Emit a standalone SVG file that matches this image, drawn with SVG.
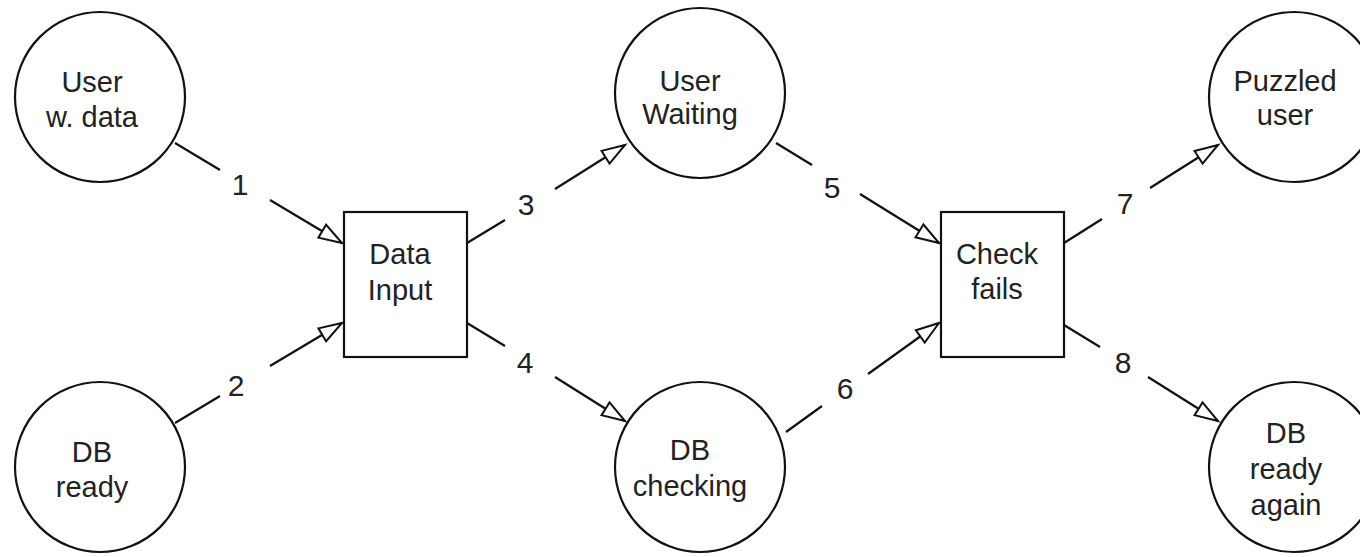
<svg xmlns="http://www.w3.org/2000/svg" width="1360" height="557" viewBox="0 0 1360 557">
  <style>
    .state { fill: #ffffff; stroke: #111111; stroke-width: 2.2; }
    .label { font-family: "Liberation Sans", Arial, sans-serif; font-size: 29px; fill: #222222; text-anchor: middle; }
    .num { font-family: "Liberation Sans", Arial, sans-serif; font-size: 30px; fill: #222222; text-anchor: middle; }
    .edge { fill: none; stroke: #111111; stroke-width: 2.2; marker-end: url(#open-arrow); }
  </style>
  <defs>
    <marker id="open-arrow" markerUnits="userSpaceOnUse" markerWidth="30" markerHeight="20" refX="24" refY="8" orient="auto" overflow="visible">
      <path d="M1,0.5 L24,8 L1,15.5 Z" fill="#ffffff" stroke="#111111" stroke-width="2" stroke-linejoin="miter"/>
    </marker>
  </defs>
  <rect width="1360" height="557" fill="#ffffff"/>

  <!-- places (circles) -->
  <g id="user-with-data">
    <circle class="state" cx="100" cy="97" r="85"/>
    <text class="label" x="92" y="92">User</text>
    <text class="label" x="92" y="127">w. data</text>
  </g>
  <g id="db-ready">
    <circle class="state" cx="100" cy="467" r="85"/>
    <text class="label" x="92" y="462">DB</text>
    <text class="label" x="92" y="497">ready</text>
  </g>
  <g id="user-waiting">
    <circle class="state" cx="700" cy="93" r="85"/>
    <text class="label" x="690" y="91">User</text>
    <text class="label" x="690" y="124">Waiting</text>
  </g>
  <g id="db-checking">
    <circle class="state" cx="700" cy="467" r="85"/>
    <text class="label" x="690" y="460">DB</text>
    <text class="label" x="690" y="496">checking</text>
  </g>
  <g id="puzzled-user">
    <circle class="state" cx="1294" cy="97" r="85"/>
    <text class="label" x="1285" y="91">Puzzled</text>
    <text class="label" x="1285" y="125">user</text>
  </g>
  <g id="db-ready-again">
    <circle class="state" cx="1294" cy="467" r="85"/>
    <text class="label" x="1286" y="443">DB</text>
    <text class="label" x="1286" y="479">ready</text>
    <text class="label" x="1286" y="515">again</text>
  </g>

  <!-- transitions (boxes) -->
  <g id="data-input">
    <rect class="state" x="344" y="212" width="123" height="145"/>
    <text class="label" x="400" y="264">Data</text>
    <text class="label" x="400" y="300">Input</text>
  </g>
  <g id="check-fails">
    <rect class="state" x="941" y="212" width="123" height="145"/>
    <text class="label" x="997" y="264">Check</text>
    <text class="label" x="997" y="299">fails</text>
  </g>

  <!-- arcs, each split around its number -->
  <g id="connectors">
    <path class="edge" d="M175 143 L220 170 M270 200 L342 243"/>
    <path class="edge" d="M175 423 L220 396 M270 366 L342 323"/>
    <path class="edge" d="M467 243 L505 220 M555 189 L625 145"/>
    <path class="edge" d="M467 323 L505 346 M555 377 L625 421"/>
    <path class="edge" d="M776 143 L812 165 M860 194 L939 243"/>
    <path class="edge" d="M786 432 L822 406 M868 374 L939 323"/>
    <path class="edge" d="M1064 243 L1102 219 M1150 188 L1218 145"/>
    <path class="edge" d="M1064 325 L1100 347 M1148 377 L1218 421"/>
    <text class="num" x="240" y="195">1</text>
    <text class="num" x="236" y="396">2</text>
    <text class="num" x="526" y="215">3</text>
    <text class="num" x="525" y="373">4</text>
    <text class="num" x="832" y="198">5</text>
    <text class="num" x="845" y="399">6</text>
    <text class="num" x="1125" y="214">7</text>
    <text class="num" x="1123" y="373">8</text>
  </g>
</svg>
